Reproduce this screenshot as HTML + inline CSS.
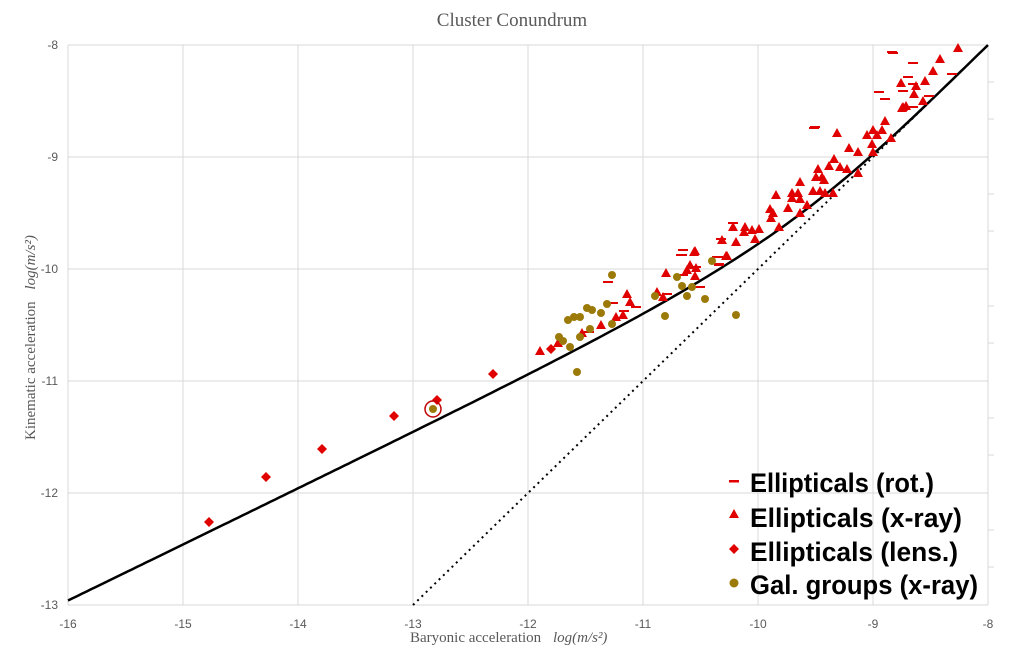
<!DOCTYPE html>
<html><head><meta charset="utf-8"><style>
html,body{margin:0;padding:0;background:#fff;}
svg{display:block;}
</style></head><body>
<svg id="root" width="1024" height="648" viewBox="0 0 1024 648" xmlns="http://www.w3.org/2000/svg">
<rect width="1024" height="648" fill="#fff"/>
<text x="512" y="26" text-anchor="middle" font-family="Liberation Serif, serif" font-size="19" fill="#595959">Cluster Conundrum</text>
<g stroke="#d9d9d9" stroke-width="1">
<line x1="183" y1="45" x2="183" y2="605"/><line x1="298" y1="45" x2="298" y2="605"/><line x1="413" y1="45" x2="413" y2="605"/><line x1="528" y1="45" x2="528" y2="605"/><line x1="643" y1="45" x2="643" y2="605"/><line x1="758" y1="45" x2="758" y2="605"/><line x1="873" y1="45" x2="873" y2="605"/>
<line x1="68" y1="157" x2="988" y2="157"/><line x1="68" y1="269" x2="988" y2="269"/><line x1="68" y1="381" x2="988" y2="381"/><line x1="68" y1="493" x2="988" y2="493"/>
<line x1="68" y1="45" x2="988" y2="45"/><line x1="68" y1="605" x2="988" y2="605"/><line x1="988" y1="45" x2="988" y2="605"/><line x1="68" y1="45" x2="68" y2="605"/>
</g>
<g stroke="#d9d9d9"><line x1="988" y1="82" x2="994" y2="82"/><line x1="988" y1="119" x2="994" y2="119"/><line x1="988" y1="194" x2="994" y2="194"/><line x1="988" y1="231" x2="994" y2="231"/><line x1="988" y1="306" x2="994" y2="306"/><line x1="988" y1="343" x2="994" y2="343"/><line x1="988" y1="418" x2="994" y2="418"/><line x1="988" y1="455" x2="994" y2="455"/><line x1="988" y1="530" x2="994" y2="530"/><line x1="988" y1="567" x2="994" y2="567"/></g>
<g font-family="Liberation Sans, sans-serif" font-size="12" fill="#595959" text-anchor="middle">
<text x="68" y="628">-16</text><text x="183" y="628">-15</text><text x="298" y="628">-14</text><text x="413" y="628">-13</text><text x="528" y="628">-12</text><text x="643" y="628">-11</text><text x="758" y="628">-10</text><text x="873" y="628">-9</text><text x="988" y="628">-8</text>
</g>
<g font-family="Liberation Sans, sans-serif" font-size="12" fill="#595959" text-anchor="end">
<text x="58" y="49">-8</text><text x="58" y="161">-9</text><text x="58" y="273">-10</text><text x="58" y="385">-11</text><text x="58" y="497">-12</text><text x="58" y="609">-13</text>
</g>
<text x="410" y="642" font-family="Liberation Serif, serif" font-size="15" fill="#595959">Baryonic acceleration <tspan dx="8" font-style="italic">log(m/s²)</tspan></text>
<text transform="translate(35,440) rotate(-90)" font-family="Liberation Serif, serif" font-size="15" fill="#595959">Kinematic acceleration <tspan dx="8" font-style="italic">log(m/s²)</tspan></text>
<path id="curve" fill="none" stroke="#000" stroke-width="2.5" d=""/>
<line x1="413" y1="605" x2="988" y2="45" stroke="#000" stroke-width="2" stroke-dasharray="2,4"/>
<g id="pts"></g>
<circle cx="433" cy="409" r="8" fill="none" stroke="#c00000" stroke-width="1.5"/>
<g font-family="Liberation Sans, sans-serif" font-size="27" font-weight="bold" fill="#000">
<text x="750" y="492" textLength="184" lengthAdjust="spacingAndGlyphs">Ellipticals (rot.)</text>
<text x="750" y="527" textLength="212" lengthAdjust="spacingAndGlyphs">Ellipticals (x-ray)</text>
<text x="750" y="561" textLength="208" lengthAdjust="spacingAndGlyphs">Ellipticals (lens.)</text>
<text x="750" y="594" textLength="228" lengthAdjust="spacingAndGlyphs">Gal. groups (x-ray)</text>
</g>
<rect x="729" y="480" width="10" height="2.5" fill="#e00000"/>
<polygon points="734,509 739,518 729,518" fill="#e00000"/>
<polygon points="734,544 739,549 734,554 729,549" fill="#e00000"/>
<circle cx="734" cy="583" r="4.5" fill="#9c7a0a"/>
</svg>
<script>
(function(){
var d="";for(var i=0;i<=200;i++){var x=-16+8*i/200;var gn=Math.pow(10,x),a0=1.2e-10;var g=gn/(1-Math.exp(-Math.sqrt(gn/a0)));var ly=Math.log10(g);var px=68+(x+16)*115,py=45+(-8-ly)*112;d+=(i?"L":"M")+px.toFixed(1)+","+py.toFixed(1);}
document.getElementById("curve").setAttribute("d",d);
var ns="http://www.w3.org/2000/svg",G=document.getElementById("pts");
function el(t,a){var e=document.createElementNS(ns,t);for(var k in a)e.setAttribute(k,a[k]);G.appendChild(e);}
var dash=[[893,53],[913,63],[908,77],[952,74],[913,84],[879,92],[903,91],[885,99],[929,96],[913,107],[814,128],[733,223],[721,239],[683,250],[681,255],[717,257],[719,264],[700,287],[682,255],[608,282],[613,303],[624,311],[636,307],[589,332],[667,294],[696,267],[718,257],[719,265],[683,275],[892,52],[815,127]];
var tri=[[958,48],[940,59],[933,71],[925,81],[916,86],[901,83],[914,94],[923,101],[903,107],[902,108],[906,106],[885,121],[873,130],[882,130],[877,135],[867,135],[891,138],[872,144],[873,152],[837,133],[849,148],[858,152],[834,159],[840,167],[829,166],[847,169],[858,173],[818,169],[816,177],[822,177],[824,180],[800,182],[792,193],[798,193],[813,191],[820,191],[825,193],[833,193],[776,195],[792,198],[800,199],[788,208],[807,205],[770,209],[773,213],[771,218],[800,213],[779,227],[733,227],[745,227],[752,230],[759,229],[744,232],[736,242],[755,239],[722,240],[727,256],[695,251],[690,265],[696,268],[687,270],[666,273],[695,276],[657,292],[663,297],[694,252],[726,256],[627,294],[630,302],[623,315],[616,317],[601,325],[582,333],[558,343],[540,351]];
var dia=[[551,349],[493,374],[437,400],[394,416],[322,449],[266,477],[209,522]];
var cir=[[712,261],[677,277],[682,286],[692,287],[687,296],[655,296],[705,299],[736,315],[665,316],[612,275],[607,304],[601,313],[587,308],[592,310],[568,320],[574,317],[580,317],[612,324],[590,329],[580,337],[559,337],[563,341],[570,347],[577,372],[433,409]];
dash.forEach(function(p){el("rect",{x:p[0]-5,y:p[1]-1,width:10,height:2,fill:"#e00000"});});
tri.forEach(function(p){el("polygon",{points:p[0]+","+(p[1]-5)+" "+(p[0]+5)+","+(p[1]+4)+" "+(p[0]-5)+","+(p[1]+4),fill:"#e00000"});});
dia.forEach(function(p){el("polygon",{points:p[0]+","+(p[1]-5)+" "+(p[0]+5)+","+p[1]+" "+p[0]+","+(p[1]+5)+" "+(p[0]-5)+","+p[1],fill:"#e00000"});});
cir.forEach(function(p){el("circle",{cx:p[0],cy:p[1],r:4,fill:"#9c7a0a"});});
})();
</script>
</body></html>
